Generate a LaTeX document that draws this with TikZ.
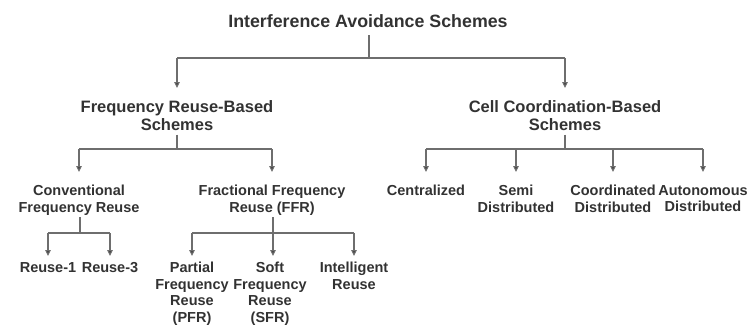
\documentclass[tikz,border=0pt]{standalone}
\usepackage{fontspec}
\setmainfont{Liberation Sans}
\usepackage{xcolor}
\usetikzlibrary{positioning, arrows.meta}
\definecolor{schemetext}{RGB}{50,50,50}
\definecolor{schemeline}{RGB}{110,110,110}
\definecolor{schemehead}{RGB}{55,55,55}

\begin{document}
\begin{tikzpicture}[x=1pt, y=-1pt,
    lbl/.style={anchor=north, inner sep=0pt, align=center, text=schemetext,
        font=\bfseries\fontsize{14.5}{16.5}\selectfont},
    headlbl/.style={lbl, font=\bfseries\fontsize{16.5}{18}\selectfont},
    link/.style={draw=schemeline, line width=1.1pt},
    arr/.style={link, -{Triangle[length=6pt, width=5.5pt, fill=schemehead]}}]
    \useasboundingbox (0,0) rectangle (751,324);

    % Root
    \node[headlbl, font=\bfseries\fontsize{17.8}{20}\selectfont] (ias) at (368,14)
        {Interference Avoidance Schemes};

    % Two families
    \node[headlbl] (freq) at (177,100) {Frequency Reuse-Based\\Schemes};
    \node[headlbl] (cell) at (565,100) {Cell Coordination-Based\\Schemes};

    % Frequency reuse branch
    \node[lbl] (conv) at (79,185) {Conventional\\Frequency Reuse};
    \node[lbl] (ffr) at (272,185) {Fractional Frequency\\Reuse (FFR)};
    \node[lbl] (reuse1) at (48,262) {Reuse-1};
    \node[lbl] (reuse3) at (110,262) {Reuse-3};
    \node[lbl] (pfr) at (192,262) {Partial\\Frequency\\Reuse\\(PFR)};
    \node[lbl] (sfr) at (270,262) {Soft\\Frequency\\Reuse\\(SFR)};
    \node[lbl] (intel) at (354,262) {Intelligent\\Reuse};

    % Cell coordination branch
    \node[lbl] (cent) at (426,185) {Centralized};
    \node[lbl] (semi) at (516,185) {Semi\\Distributed};
    \node[lbl] (coord) at (613,185) {Coordinated\\Distributed};
    \node[lbl] (auto) at (703,185) {Autonomous\\Distributed};

    % Junctions
    \coordinate (j1) at (369,58);
    \coordinate (j2) at (177,149);
    \coordinate (j3) at (565,149);
    \coordinate (j4) at (80,233);
    \coordinate (j5) at (273,233);

    % Root to families
    \draw[link, shorten <=8pt] (ias.south -| j1) -- (j1);
    \draw[link] (j1 -| freq.north) -- (j1 -| cell.north);
    \foreach \n in {freq,cell} {
        \draw[arr, shorten >=12pt] (j1 -| \n.north) -- (\n.north);
    }

    % Frequency reuse branch
    \draw[link, shorten <=4pt] (freq.south) -- (j2);
    \draw[link] (j2 -| conv.north) -- (j2 -| ffr.north);
    \foreach \n in {conv,ffr} {
        \draw[arr, shorten >=13pt] (j2 -| \n.north) -- (\n.north);
    }
    \draw[link, shorten <=2pt] (conv.south -| j4) -- (j4);
    \draw[link] (j4 -| reuse1.north) -- (j4 -| reuse3.north);
    \foreach \n in {reuse1,reuse3} {
        \draw[arr, shorten >=6pt] (j4 -| \n.north) -- (\n.north);
    }
    \draw[link, shorten <=2pt] (ffr.south -| j5) -- (j5);
    \draw[link] (j5 -| pfr.north) -- (j5 -| intel.north);
    \foreach \n in {pfr,intel} {
        \draw[arr, shorten >=6pt] (j5 -| \n.north) -- (\n.north);
    }
    \draw[arr, shorten >=6pt] (j5) -- (j5 |- sfr.north);

    % Cell coordination branch
    \draw[link, shorten <=4pt] (cell.south) -- (j3);
    \draw[link] (j3 -| cent.north) -- (j3 -| auto.north);
    \foreach \n in {cent,semi,coord,auto} {
        \draw[arr, shorten >=13pt] (j3 -| \n.north) -- (\n.north);
    }
\end{tikzpicture}
\end{document}
